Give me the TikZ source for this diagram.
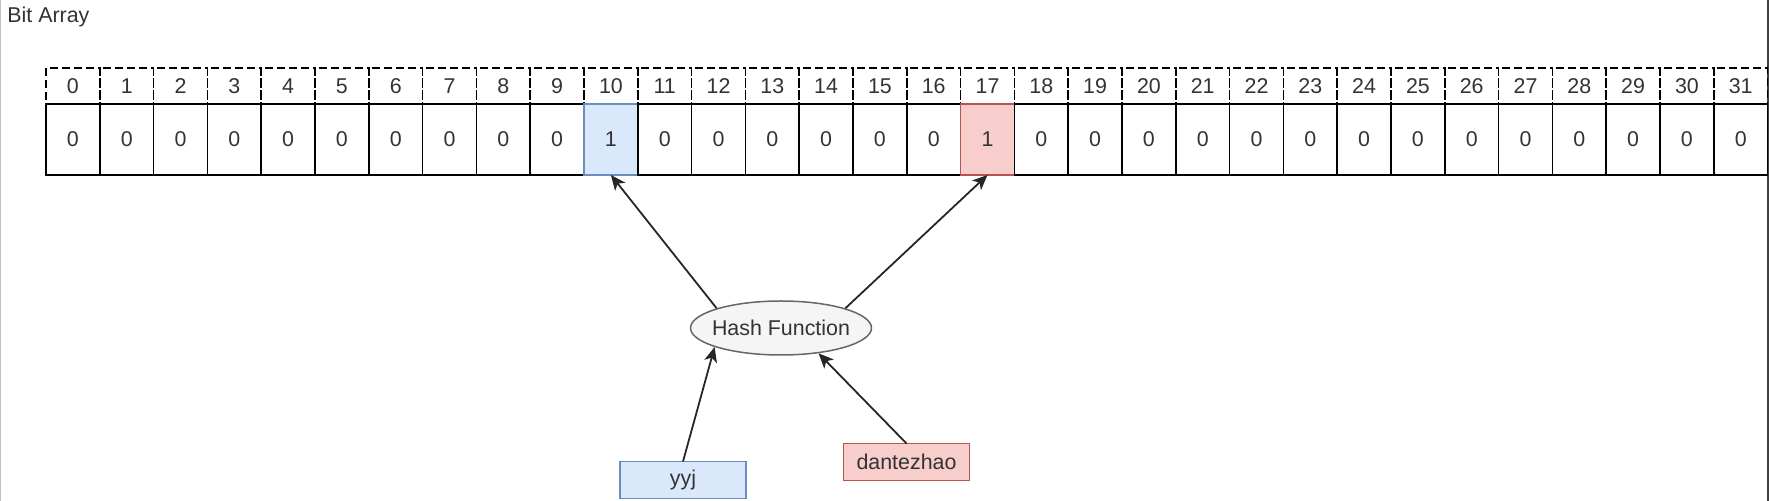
\documentclass[tikz,border=0pt]{standalone}
\usepackage{fontspec}
\setmainfont{Liberation Sans}
\usetikzlibrary{positioning, shapes.geometric, arrows.meta}
\definecolor{myblue}{RGB}{218, 232, 252}
\definecolor{mybluedraw}{RGB}{108, 142, 191}
\definecolor{myred}{RGB}{248, 206, 204}
\definecolor{myreddraw}{RGB}{184, 84, 80}
\definecolor{mygray}{RGB}{245, 245, 245}
\definecolor{mygraydraw}{RGB}{102, 102, 102}
\definecolor{mytext}{RGB}{51, 51, 51}
\definecolor{myframe}{RGB}{192, 192, 192}

\begin{document}
\begin{tikzpicture}[
    x=0.5pt, y=-0.5pt,
    cell/.style={
        draw,
        line width=0.75pt,
        minimum width=26.9pt,
        minimum height=35.5pt,
        font=\fontsize{10.7pt}{12pt}\selectfont,
        text=mytext,
        inner sep=0pt,
        outer sep=0pt,
        node distance=0pt
    },
    indexcell/.style={cell, dashed, dash pattern=on 4pt off 2pt, minimum height=18pt},
    bluecell/.style={cell, fill=myblue, draw=mybluedraw},
    redcell/.style={cell, fill=myred, draw=myreddraw},
    keybox/.style={cell, minimum width=63pt, minimum height=18.5pt},
    hashnode/.style={
        ellipse, draw=mygraydraw, fill=mygray, line width=0.75pt,
        minimum width=90.5pt, minimum height=27pt, inner sep=0pt, inner xsep=-12pt,
        font=\fontsize{10.7pt}{12pt}\selectfont, text=mytext
    },
    arrow/.style={-{Stealth[length=7.5pt, width=6.5pt, inset=2pt]}, line width=0.9pt, draw=black!85}
]
\useasboundingbox (0,0) rectangle (1769,501);

% frame edges
\draw[myframe, line width=0.75pt] (0.5,0) -- (0.5,501);
\draw[black!75, line width=0.75pt] (1768,0) -- (1768,501);

\node[anchor=base west, inner sep=0pt, text=mytext,
      font=\fontsize{10.7pt}{12pt}\selectfont] (title) at (7,23) {Bit Array};

% index row
\node[indexcell] (i0) at (72.9,86) {0};
\foreach \n [remember=\n as \p (initially 0)] in {1,...,31}
    \node[indexcell, right=of i\p] (i\n) {\n};

% bit row
\foreach \n in {0,...,31}{
    \ifnum\n=10 \def\bitstyle{bluecell}\def\bit{1}%
    \else\ifnum\n=17 \def\bitstyle{redcell}\def\bit{1}%
    \else \def\bitstyle{cell}\def\bit{0}\fi\fi
    \node[\bitstyle, below=of i\n] (v\n) {\bit};
}

\node[hashnode] (hash) at (781,328) {Hash Function};
\node[keybox, fill=myblue, draw=mybluedraw] (yyj) at (683,480) {yyj};
\node[keybox, fill=myred, draw=myreddraw] (dantezhao) at (906.5,462) {dantezhao};

\draw[arrow] (hash.163) -- (v10.south);
\draw[arrow] (hash.17) -- (v17.south);
\draw[arrow] (yyj.north) -- (hash.196);
\draw[arrow] (dantezhao.north) -- (hash.326);

\end{tikzpicture}
\end{document}
